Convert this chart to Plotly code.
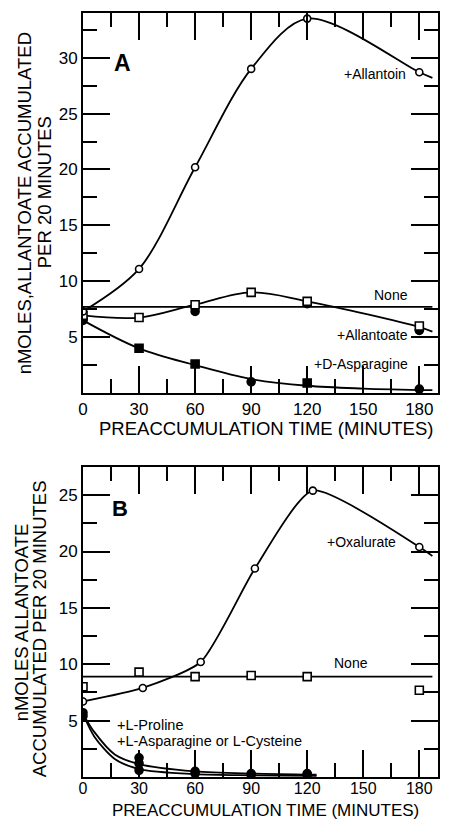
import plotly.graph_objects as go

# ---------------- Panel A data ----------------
a_t = [0, 30, 60, 90, 120, 180]
a_allantoin = [7.3, 11.1, 20.2, 29.0, 33.5, 28.7]
a_allantoin_curve_t = [0, 30, 60, 90, 120, 180, 187]
a_allantoin_curve = [7.3, 11.1, 20.2, 29.0, 33.5, 28.7, 28.2]

a_none_level = 7.7
a_none_sq = [6.95, 6.75, 7.9, 9.0, 8.2, 6.0]
a_wave_curve_t = [0, 30, 60, 90, 120, 180, 187]
a_wave_curve = [6.95, 6.75, 7.9, 9.0, 8.2, 5.9, 5.5]

a_allantoate_t = [0, 60, 120, 180]
a_allantoate = [6.6, 7.3, 8.0, 5.6]

a_dasp_t = [0, 30, 60, 90, 120, 180]
a_dasp = [6.5, 4.0, 2.6, 1.0, 0.9, 0.35]
a_dasp_sym = ["circle", "square", "square", "circle", "square", "circle"]
a_dasp_curve_t = [0, 30, 60, 90, 120, 150, 187]
a_dasp_curve = [6.5, 4.0, 2.5, 1.25, 0.65, 0.4, 0.25]

# ---------------- Panel B data ----------------
b_oxal_t = [0, 32, 63, 92, 123, 180]
b_oxal = [6.7, 7.9, 10.2, 18.5, 25.4, 20.4]
b_oxal_curve_t = [0, 32, 63, 92, 123, 180, 187]
b_oxal_curve = [6.7, 7.9, 10.2, 18.5, 25.4, 20.4, 19.6]

b_none_level = 8.9
b_none_t = [0, 30, 60, 90, 120, 180]
b_none_sq = [8.0, 9.3, 8.9, 9.0, 8.9, 7.7]

b_pro_curve_t = [0, 6, 17, 30, 60, 90, 125]
b_pro_curve = [5.6, 4.0, 2.0, 1.15, 0.5, 0.3, 0.2]
b_asp_curve_t = [0, 6, 17, 30, 60, 90, 125]
b_asp_curve = [5.6, 3.6, 1.6, 0.7, 0.25, 0.15, 0.1]
b_filled_t = [0, 0, 30, 30, 30, 60, 60, 90, 90, 120, 120]
b_filled = [5.7, 5.4, 1.7, 1.2, 0.6, 0.5, 0.3, 0.3, 0.2, 0.3, 0.2]

x_ticks = [0, 30, 60, 90, 120, 150, 180]
x_ticktext = ["0", "30", "60", "90", "120", "150", "180"]
a_yticks = [5, 10, 15, 20, 25, 30]
b_yticks = [5, 10, 15, 20, 25]

FONT = "Liberation Sans, Arial, sans-serif"
LW = 1.8

fig = go.Figure()

def line(x, y, xa, ya, smooth=1.0):
    fig.add_trace(go.Scatter(x=x, y=y, mode="lines", xaxis=xa, yaxis=ya,
                             line=dict(color="black", width=LW, shape="spline", smoothing=smooth),
                             showlegend=False, hoverinfo="skip"))

def marks(x, y, xa, ya, symbol, filled, size=8):
    fig.add_trace(go.Scatter(x=x, y=y, mode="markers", xaxis=xa, yaxis=ya,
                             marker=dict(symbol=symbol, size=size,
                                         color="black" if filled else "white",
                                         line=dict(color="black", width=1.6)),
                             showlegend=False, hoverinfo="skip"))

# Panel A
line(a_allantoin_curve_t, a_allantoin_curve, "x", "y", 0.9)
line([0, 187], [a_none_level, a_none_level], "x", "y")
line(a_wave_curve_t, a_wave_curve, "x", "y")
line(a_dasp_curve_t, a_dasp_curve, "x", "y")
marks(a_allantoate_t, a_allantoate, "x", "y", "circle", True, 8)
marks(a_dasp_t, a_dasp, "x", "y", a_dasp_sym, True, 8)
marks(a_t, a_none_sq, "x", "y", "square", False, 8)
marks(a_t, a_allantoin, "x", "y", "circle", False, 7)

# Panel B
line(b_oxal_curve_t, b_oxal_curve, "x2", "y2", 0.6)
line([0, 187], [b_none_level, b_none_level], "x2", "y2")
line(b_pro_curve_t, b_pro_curve, "x2", "y2", 0.8)
line(b_asp_curve_t, b_asp_curve, "x2", "y2", 0.8)
marks(b_filled_t, b_filled, "x2", "y2", "circle", True, 8)
marks(b_none_t, b_none_sq, "x2", "y2", "square", False, 8)
marks(b_oxal_t, b_oxal, "x2", "y2", "circle", False, 7)

axis_common = dict(showline=True, linewidth=2, linecolor="black", mirror="allticks",
                   ticks="inside", ticklen=27, tickwidth=2, tickcolor="black",
                   showgrid=False, zeroline=False,
                   tickfont=dict(family=FONT, size=17, color="black"))

fig.update_layout(
    width=450, height=821,
    margin=dict(l=83, r=10, t=13, b=44),
    paper_bgcolor="white", plot_bgcolor="white",
    xaxis=dict(axis_common, domain=[0, 1], anchor="y", range=[0, 190],
               tickvals=x_ticks, ticktext=x_ticktext,
               minor=dict(ticks="inside", ticklen=14, tickwidth=2, tickcolor="black", tick0=0, dtick=15)),
    yaxis=dict(axis_common, domain=[0.5026, 1], anchor="x", range=[0, 34],
               tickvals=a_yticks,
               minor=dict(ticks="inside", ticklen=14, tickwidth=2, tickcolor="black", tick0=0, dtick=2.5)),
    xaxis2=dict(axis_common, domain=[0, 1], anchor="y2", range=[0, 190],
                tickvals=x_ticks, ticktext=x_ticktext, ticklabelstandoff=-4,
                tickfont=dict(family=FONT, size=16, color="black"),
                minor=dict(ticks="inside", ticklen=14, tickwidth=2, tickcolor="black", tick0=0, dtick=15)),
    yaxis2=dict(axis_common, domain=[0, 0.4058], anchor="x2", range=[0, 27.5],
                tickvals=b_yticks,
                minor=dict(ticks="inside", ticklen=14, tickwidth=2, tickcolor="black", tick0=0, dtick=2.5)),
)

def px_x(px):
    return (px - 83) / 357.0

def px_y(py):
    return (777 - py) / 764.0

ann = []
def data_text(text, x, y, xa, ya, size=14, xanchor="center", bold=False):
    ann.append(dict(text=f"<b>{text}</b>" if bold else text, x=x, y=y, xref=xa, yref=ya,
                    showarrow=False, xanchor=xanchor, yanchor="middle",
                    font=dict(family=FONT, size=size, color="black")))

def paper_text(text, px, py, size=18.5, angle=0):
    ann.append(dict(text=text, x=px_x(px), y=px_y(py), xref="paper", yref="paper",
                    showarrow=False, xanchor="center", yanchor="middle", textangle=angle,
                    font=dict(family=FONT, size=size, color="black")))

# Panel A labels
data_text("A", 21.3, 29.5, "x", "y", size=23, bold=True)
data_text("+Allantoin", 174, 28.5, "x", "y", xanchor="right")
data_text("None", 175, 8.8, "x", "y", xanchor="right")
data_text("+Allantoate", 175, 5.2, "x", "y", xanchor="right")
data_text("+D-Asparagine", 175, 2.6, "x", "y", xanchor="right")
# Panel B labels
data_text("B", 19.7, 23.8, "x2", "y2", size=22, bold=True)
data_text("+Oxalurate", 149, 20.85, "x2", "y2")
data_text("None", 143.7, 10.1, "x2", "y2")
data_text("+L-Proline", 17, 4.6, "x2", "y2", size=14.5, xanchor="left")
data_text("+L-Asparagine or L-Cysteine", 17, 3.2, "x2", "y2", size=14.5, xanchor="left")

# Axis titles
paper_text("nMOLES,ALLANTOATE ACCUMULATED", 25, 203, angle=-90)
paper_text("PER 20 MINUTES", 44, 192, angle=-90)
paper_text("nMOLES ALLANTOATE", 21, 622, angle=-90)
paper_text("ACCUMULATED PER 20 MINUTES", 39, 629, angle=-90)
paper_text("PREACCUMULATION TIME (MINUTES)", 267, 428)
paper_text("PREACCUMULATION TIME (MINUTES)", 267, 811, size=17)

fig.update_layout(annotations=ann)
fig.write_html("out.html")
